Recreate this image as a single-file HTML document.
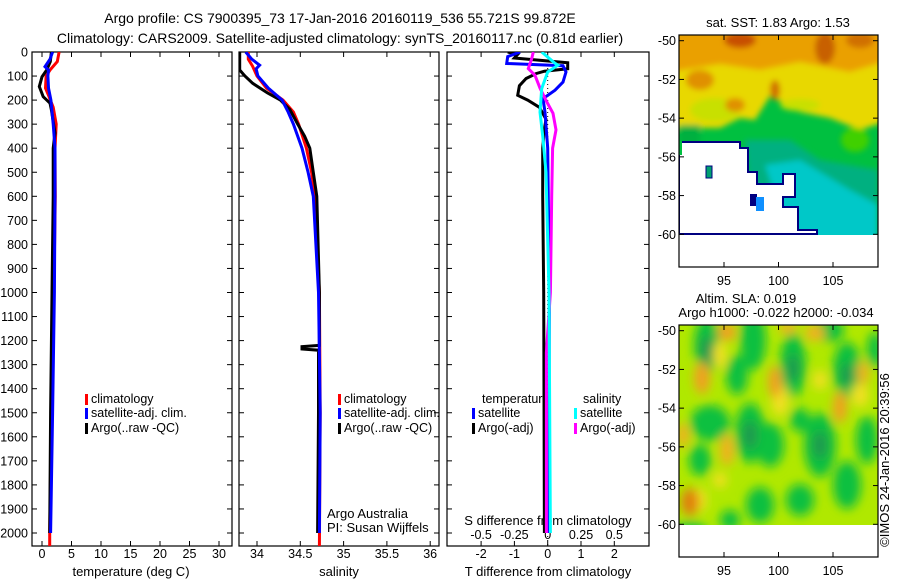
<!DOCTYPE html>
<html><head><meta charset="utf-8"><style>
html,body{margin:0;padding:0;background:#fff;}
svg{display:block;font-family:"Liberation Sans",sans-serif;}
text{fill:#000;}
</style></head><body>
<svg id="chart" width="900" height="580" viewBox="0 0 900 580" xmlns="http://www.w3.org/2000/svg">
<defs>
<clipPath id="c1"><rect x="32" y="52" width="200" height="494"/></clipPath>
<clipPath id="c2"><rect x="239" y="52" width="200" height="494"/></clipPath>
<clipPath id="c3"><rect x="447" y="52" width="202" height="494"/></clipPath>
<clipPath id="cm1"><rect x="679" y="35" width="199" height="232"/></clipPath>
<clipPath id="cm2"><rect x="679" y="325" width="199" height="232"/></clipPath>
<filter id="blur" x="-20%" y="-20%" width="140%" height="140%"><feGaussianBlur stdDeviation="5"/></filter>
<filter id="blur2" x="-20%" y="-20%" width="140%" height="140%"><feGaussianBlur stdDeviation="3"/></filter>
</defs>
<text x="340" y="23" font-size="14" text-anchor="middle">Argo profile: CS 7900395_73 17-Jan-2016 20160119_536 55.721S 99.872E</text>
<text x="340" y="43" font-size="14" text-anchor="middle">Climatology: CARS2009. Satellite-adjusted climatology: synTS_20160117.nc (0.81d earlier)</text>
<g id="axes"></g>
<g id="series"></g>
<g id="maps"></g>
<text transform="translate(889,460) rotate(-90)" font-size="13" text-anchor="middle">©IMOS 24-Jan-2016 20:39:56</text>
</svg>
<script>
// ---- data ----
const depthTicks=[0,100,200,300,400,500,600,700,800,900,1000,1100,1200,1300,1400,1500,1600,1700,1800,1900,2000];
const tempTicks=[0,5,10,15,20,25,30];
const salTicks=[34,34.5,35,35.5,36];
const tdiffTicks=[-2,-1,0,1,2];
const sdiffTicks=[-0.5,-0.25,0,0.25,0.5];
const sdiffLabels=["-0.5","-0.25","0","0.25","0.5"];
const latTicks=[-50,-52,-54,-56,-58,-60];
const lonTicks=[95,100,105];

const tClimD=[0,40,75,100,150,180,230,300,400,600,1000,1500,2000,2060];
const tClim=[2.9,2.6,1.35,0.7,0.6,1.1,1.9,2.4,2.2,2.25,2.0,1.6,1.3,1.3];
const tSatD=[0,30,61,75,100,150,200,300,400,600,1000,1500,2000];
const tSat=[1.8,1.35,0.5,1.1,1.0,1.1,1.5,1.9,2.2,2.2,2.1,1.8,1.45];
const tArgoD=[0,40,75,103,144,186,213,241,337,400,600,1000,1500,2000];
const tArgo=[1.6,1.4,0.8,0.0,-0.45,0.2,1.35,1.6,2.2,1.9,1.9,1.7,1.45,1.3];

const sClimD=[0,30,60,100,150,200,250,300,400,500,600,1000,1500,2060];
const sClim=[33.9,33.9,33.95,34.0,34.11,34.3,34.42,34.48,34.57,34.63,34.67,34.72,34.73,34.72];
const sSatD=[0,30,55,70,100,150,200,250,300,400,500,600,1000,1500,2000];
const sSat=[33.87,33.94,34.03,33.99,34.01,34.13,34.29,34.36,34.42,34.52,34.59,34.65,34.71,34.73,34.72];
const sArgoD=[0,75,100,130,170,200,240,300,350,400,500,600,1000,1220,1225,1235,1240,1500,2000];
const sArgo=[33.80,33.80,33.86,33.95,34.12,34.27,34.38,34.47,34.55,34.61,34.65,34.69,34.72,34.72,34.52,34.52,34.71,34.71,34.70];

const dtArgoD=[0,10,25,45,70,80,90,110,140,180,200,230,280,320,400,600,1000,2000];
const dtArgo=[-1.2,-0.9,-1.0,0.6,0.6,-0.1,-0.35,-0.65,-0.85,-0.9,-0.6,-0.25,-0.05,-0.1,-0.15,-0.15,-0.12,-0.1];
const dtSatD=[0,19,48,57,83,125,159,194,250,400,1000,2000];
const dtSat=[-0.83,-1.2,-1.23,0.46,0.55,0.46,0.22,-0.14,-0.08,0,0.05,0.03];
const dsSatD=[0,47,55,83,152,250,360,500,1000,2000];
const dsSat=[-0.045,0.055,0.077,0,-0.045,-0.058,-0.035,-0.013,0.01,0.02];
const dsArgoD=[0,28,69,97,150,206,255,324,400,600,1000,1250,2000];
const dsArgo=[-0.108,-0.12,-0.146,-0.095,-0.058,-0.008,0.04,0.062,0.037,0.03,0.02,-0.01,-0.01];

// ---- scales ----
const NS="http://www.w3.org/2000/svg";
const yD=d=>52+d*0.2405;
const xT=t=>42+t*5.9;
const xS=s=>257+(s-34)*86.6;
const xDT=t=>547.7+t*33.3;
const xDS=s=>547.7+s*133.2;
const yLat1=l=>40.7+(-50-l)*19.36;
const yLat2=l=>330.7+(-50-l)*19.36;
const xLon=l=>724+(l-95)*10.9;

function mk(tag,attrs,parent){const e=document.createElementNS(NS,tag);for(const k in attrs)e.setAttribute(k,attrs[k]);parent.appendChild(e);return e;}
const axes=document.getElementById('axes');
const series=document.getElementById('series');
const maps=document.getElementById('maps');

function panel(name,x,y,w,h){
  const r=mk('rect',{x:x,y:y,width:w,height:h,fill:'none',stroke:'#000','stroke-width':1.2},axes);
  
  
}
panel('temperature-panel',32,52,200,494);
panel('salinity-panel',239,52,200,494);
panel('difference-panel',447,52,202,494);

depthTicks.forEach(d=>{
  const y=yD(d);
  [[32,1],[232,-1],[239,1],[439,-1],[447,1],[649,-1]].forEach(([x,s])=>{
    mk('line',{x1:x,x2:x+5*s,y1:y,y2:y,stroke:'#000'},axes);
  });
  const t=mk('text',{x:28,y:y+4.5,'font-size':12.5,'text-anchor':'end'},axes);
  t.textContent=d;
  
  
});
function xticks(vals,labels,fx,name){
  vals.forEach((v,i)=>{
    const x=fx(v);
    mk('line',{x1:x,x2:x,y1:546,y2:541,stroke:'#000'},axes);
    mk('line',{x1:x,x2:x,y1:52,y2:57,stroke:'#000'},axes);
    const t=mk('text',{x:x,y:558,'font-size':12.5,'text-anchor':'middle'},axes);
    t.textContent=labels[i];
    
    
  });
}
xticks(tempTicks,tempTicks.map(String),xT,'temperature-tick-label');
xticks(salTicks,salTicks.map(String),xS,'salinity-tick-label');
xticks(tdiffTicks,tdiffTicks.map(String),xDT,'tdiff-tick-label');
sdiffTicks.forEach((v,i)=>{
  const x=xDS(v);
  const t=mk('text',{x:x,y:539,'font-size':12.5,'text-anchor':'middle'},axes);
  t.textContent=sdiffLabels[i];
  
  
});
function label(txt,x,y,name,anchor,size){
  const t=mk('text',{x:x,y:y,'font-size':size||13,'text-anchor':anchor||'start'},axes);
  t.textContent=txt;
  
  
  return t;
}
label('temperature (deg C)',131,576,'temperature-axis-title','middle');
label('salinity',339,576,'salinity-axis-title','middle');
label('T difference from climatology',548,576,'tdiff-axis-title','middle');
label('S difference from climatology',548,525,'sdiff-axis-title','middle');
label('Argo Australia',327,518,'argo-australia-label');
label('PI: Susan Wijffels',327,532,'pi-label');

const zl=mk('line',{x1:xDT(0),x2:xDT(0),y1:52,y2:546,stroke:'#000','stroke-dasharray':'1,3'},series);



function line(ds,vs,fx,color,clip,name){
  const pts=ds.map((d,i)=>fx(vs[i]).toFixed(1)+','+yD(d).toFixed(1)).join(' ');
  const p=mk('polyline',{points:pts,fill:'none',stroke:color,'stroke-width':3,'clip-path':'url(#'+clip+')','stroke-linejoin':'miter'},series);
  
  
}
line(tClimD,tClim,xT,'#ff0000','c1','temperature-climatology-line');
line(tArgoD,tArgo,xT,'#000000','c1','temperature-argo-line');
line(tSatD,tSat,xT,'#0000ff','c1','temperature-satellite-line');
line(sClimD,sClim,xS,'#ff0000','c2','salinity-climatology-line');
line(sArgoD,sArgo,xS,'#000000','c2','salinity-argo-line');
line(sSatD,sSat,xS,'#0000ff','c2','salinity-satellite-line');
line(dtArgoD,dtArgo,xDT,'#000000','c3','tdiff-argo-line');
line(dtSatD,dtSat,xDT,'#0000ff','c3','tdiff-satellite-line');
line(dsArgoD,dsArgo,xDS,'#ff00ff','c3','sdiff-argo-line');
line(dsSatD,dsSat,xDS,'#00ffff','c3','sdiff-satellite-line');

function leg(x,y,color,txt,name){
  const r=mk('rect',{x:x,y:y-9,width:3,height:11,fill:color},axes);
  
  
  label(txt,x+6,y,name,'start',12.5);
}
leg(85,403,'#ff0000','climatology','legend-temp-climatology');
leg(85,417,'#0000ff','satellite-adj. clim.','legend-temp-satellite');
leg(85,432,'#000000','Argo(..raw -QC)','legend-temp-argo');
leg(338,403,'#ff0000','climatology','legend-sal-climatology');
leg(338,417,'#0000ff','satellite-adj. clim.','legend-sal-satellite');
leg(338,432,'#000000','Argo(..raw -QC)','legend-sal-argo');
label('temperature',482,403,'legend-temperature-heading','start',12.5);
label('salinity',583,403,'legend-salinity-heading','start',12.5);
leg(472,417,'#0000ff','satellite','legend-tdiff-satellite');
leg(472,432,'#000000','Argo(-adj)','legend-tdiff-argo');
leg(574,417,'#00ffff','satellite','legend-sdiff-satellite');
leg(574,432,'#ff00ff','Argo(-adj)','legend-sdiff-argo');

// ---- maps ----
function mapFrame(top,yl,title,name){
  const f=mk('rect',{x:679,y:top,width:199,height:232,fill:'none',stroke:'#000','stroke-width':1.2},maps);
  
  
  latTicks.forEach(l=>{
    const y=yl(l);
    mk('line',{x1:679,x2:684,y1:y,y2:y,stroke:'#000'},maps);
    mk('line',{x1:878,x2:873,y1:y,y2:y,stroke:'#000'},maps);
    const t=mk('text',{x:676,y:y+4.5,'font-size':12.5,'text-anchor':'end'},maps);
    t.textContent=l;
    
    
  });
  lonTicks.forEach(l=>{
    const x=xLon(l);
    mk('line',{x1:x,x2:x,y1:top,y2:top+5,stroke:'#000'},maps);
    mk('line',{x1:x,x2:x,y1:top+232,y2:top+227,stroke:'#000'},maps);
    const t=mk('text',{x:x,y:top+250,'font-size':12.5,'text-anchor':'middle'},maps);
    t.textContent=l;
    
    
  });
}
const g1=mk('g',{'clip-path':'url(#cm1)'},maps);


mk('rect',{x:679,y:35,width:199,height:200,fill:'#00c040'},g1);
const gb=mk('g',{filter:'url(#blur2)'},g1);
mk('polygon',{points:'670,30 890,30 890,120 860,130 830,118 800,112 770,96 755,120 740,118 720,128 670,128',fill:'#e8d800'},gb);
mk('ellipse',{cx:715,cy:110,rx:25,ry:12,fill:'#c8e000'},gb);
mk('ellipse',{cx:800,cy:105,rx:20,ry:6,fill:'#c8e000'},gb);
mk('polygon',{points:'670,28 890,28 890,60 850,72 800,62 760,70 720,64 670,72',fill:'#eaa000'},gb);
mk('ellipse',{cx:740,cy:40,rx:16,ry:8,fill:'#c85000'},gb);
mk('ellipse',{cx:825,cy:48,rx:10,ry:16,fill:'#c86000'},gb);
mk('ellipse',{cx:860,cy:40,rx:14,ry:8,fill:'#d07000'},gb);
mk('ellipse',{cx:700,cy:80,rx:14,ry:10,fill:'#e09000'},gb);
mk('ellipse',{cx:735,cy:105,rx:10,ry:7,fill:'#e09000'},gb);
mk('ellipse',{cx:775,cy:90,rx:5,ry:10,fill:'#d07000'},gb);
mk('ellipse',{cx:855,cy:140,rx:14,ry:12,fill:'#40d000'},gb);
mk('polygon',{points:'679,125 700,125 700,150 679,150',fill:'#00b040'},gb);
mk('polygon',{points:'745,140 790,140 820,160 878,170 878,240 780,240 750,190',fill:'#00b080'},gb);
mk('polygon',{points:'765,165 800,160 850,190 878,205 878,240 790,240',fill:'#00c8c8'},gb);
mk('polygon',{points:'679,142 740,142 740,148 748,148 748,172 757,172 757,184 783,184 783,174 795,174 795,197 783,197 783,207 798,207 798,230 817,230 817,234 679,234',fill:'#ffffff',stroke:'#000080','stroke-width':2},g1);
mk('rect',{x:679,y:141,width:3,height:14,fill:'#00c040'},g1);
mk('rect',{x:706,y:166,width:6,height:12,fill:'#00a070',stroke:'#000080','stroke-width':1},g1);
mk('rect',{x:750,y:194,width:7,height:12,fill:'#000080'},g1);
mk('rect',{x:756,y:197,width:8,height:14,fill:'#1090ff'},g1);
mk('rect',{x:679,y:235,width:199,height:33,fill:'#ffffff'},g1);
mapFrame(35,yLat1,'sat. SST','sst-map');
label('sat. SST: 1.83 Argo: 1.53',778,27,'sst-map-title','middle',13);

const g2=mk('g',{'clip-path':'url(#cm2)'},maps);


mk('rect',{x:679,y:325,width:199,height:200,fill:'#b0e800'},g2);
const gs=mk('g',{filter:'url(#blur)'},g2);
[[707,345,13,28],[753,340,13,30],[750,433,15,30],[710,423,20,18],[793,365,13,32],[847,370,14,28],[820,445,16,32],[770,445,14,22],[847,485,14,24],[760,505,14,18],[867,440,11,24],[737,375,11,20],[800,500,14,16],[700,460,11,16],[830,330,14,12],[690,530,16,8],[875,350,8,18],[730,520,10,10],[800,420,10,12]].forEach(e=>{
  mk('ellipse',{cx:e[0],cy:e[1],rx:e[2],ry:e[3],fill:'#10c040'},gs);
});
[[707,350,7,14],[750,435,7,14],[793,368,6,14],[820,445,7,14],[847,375,6,12]].forEach(e=>{
  mk('ellipse',{cx:e[0],cy:e[1],rx:e[2],ry:e[3],fill:'#209850'},gs);
});
[[720,355,7,14],[780,400,9,16],[860,395,9,12],[700,500,7,12],[720,480,7,8],[820,380,7,10]].forEach(e=>{
  mk('ellipse',{cx:e[0],cy:e[1],rx:e[2],ry:e[3],fill:'#f0e020'},gs);
});
[[727,332,9,9,'#f0a020'],[702,378,8,16,'#f0a020'],[775,382,7,16,'#f0a020'],[840,407,7,16,'#f0a020'],[727,450,7,16,'#f0b020'],[690,502,9,14,'#e08010'],[815,333,10,8,'#f0b020'],[863,373,6,12,'#f0b020'],[683,435,6,12,'#f0b020'],[788,328,9,6,'#f0b020']].forEach(e=>{
  mk('ellipse',{cx:e[0],cy:e[1],rx:e[2],ry:e[3],fill:e[4]},gs);
});
mk('rect',{x:679,y:525,width:199,height:33,fill:'#ffffff'},g2);
mapFrame(325,yLat2,'SLA','sla-map');
label('Altim. SLA: 0.019',746,303,'sla-map-title','middle',13);
label('Argo h1000: -0.022 h2000: -0.034',776,317,'sla-map-subtitle','middle',13);
</script>
</body></html>
